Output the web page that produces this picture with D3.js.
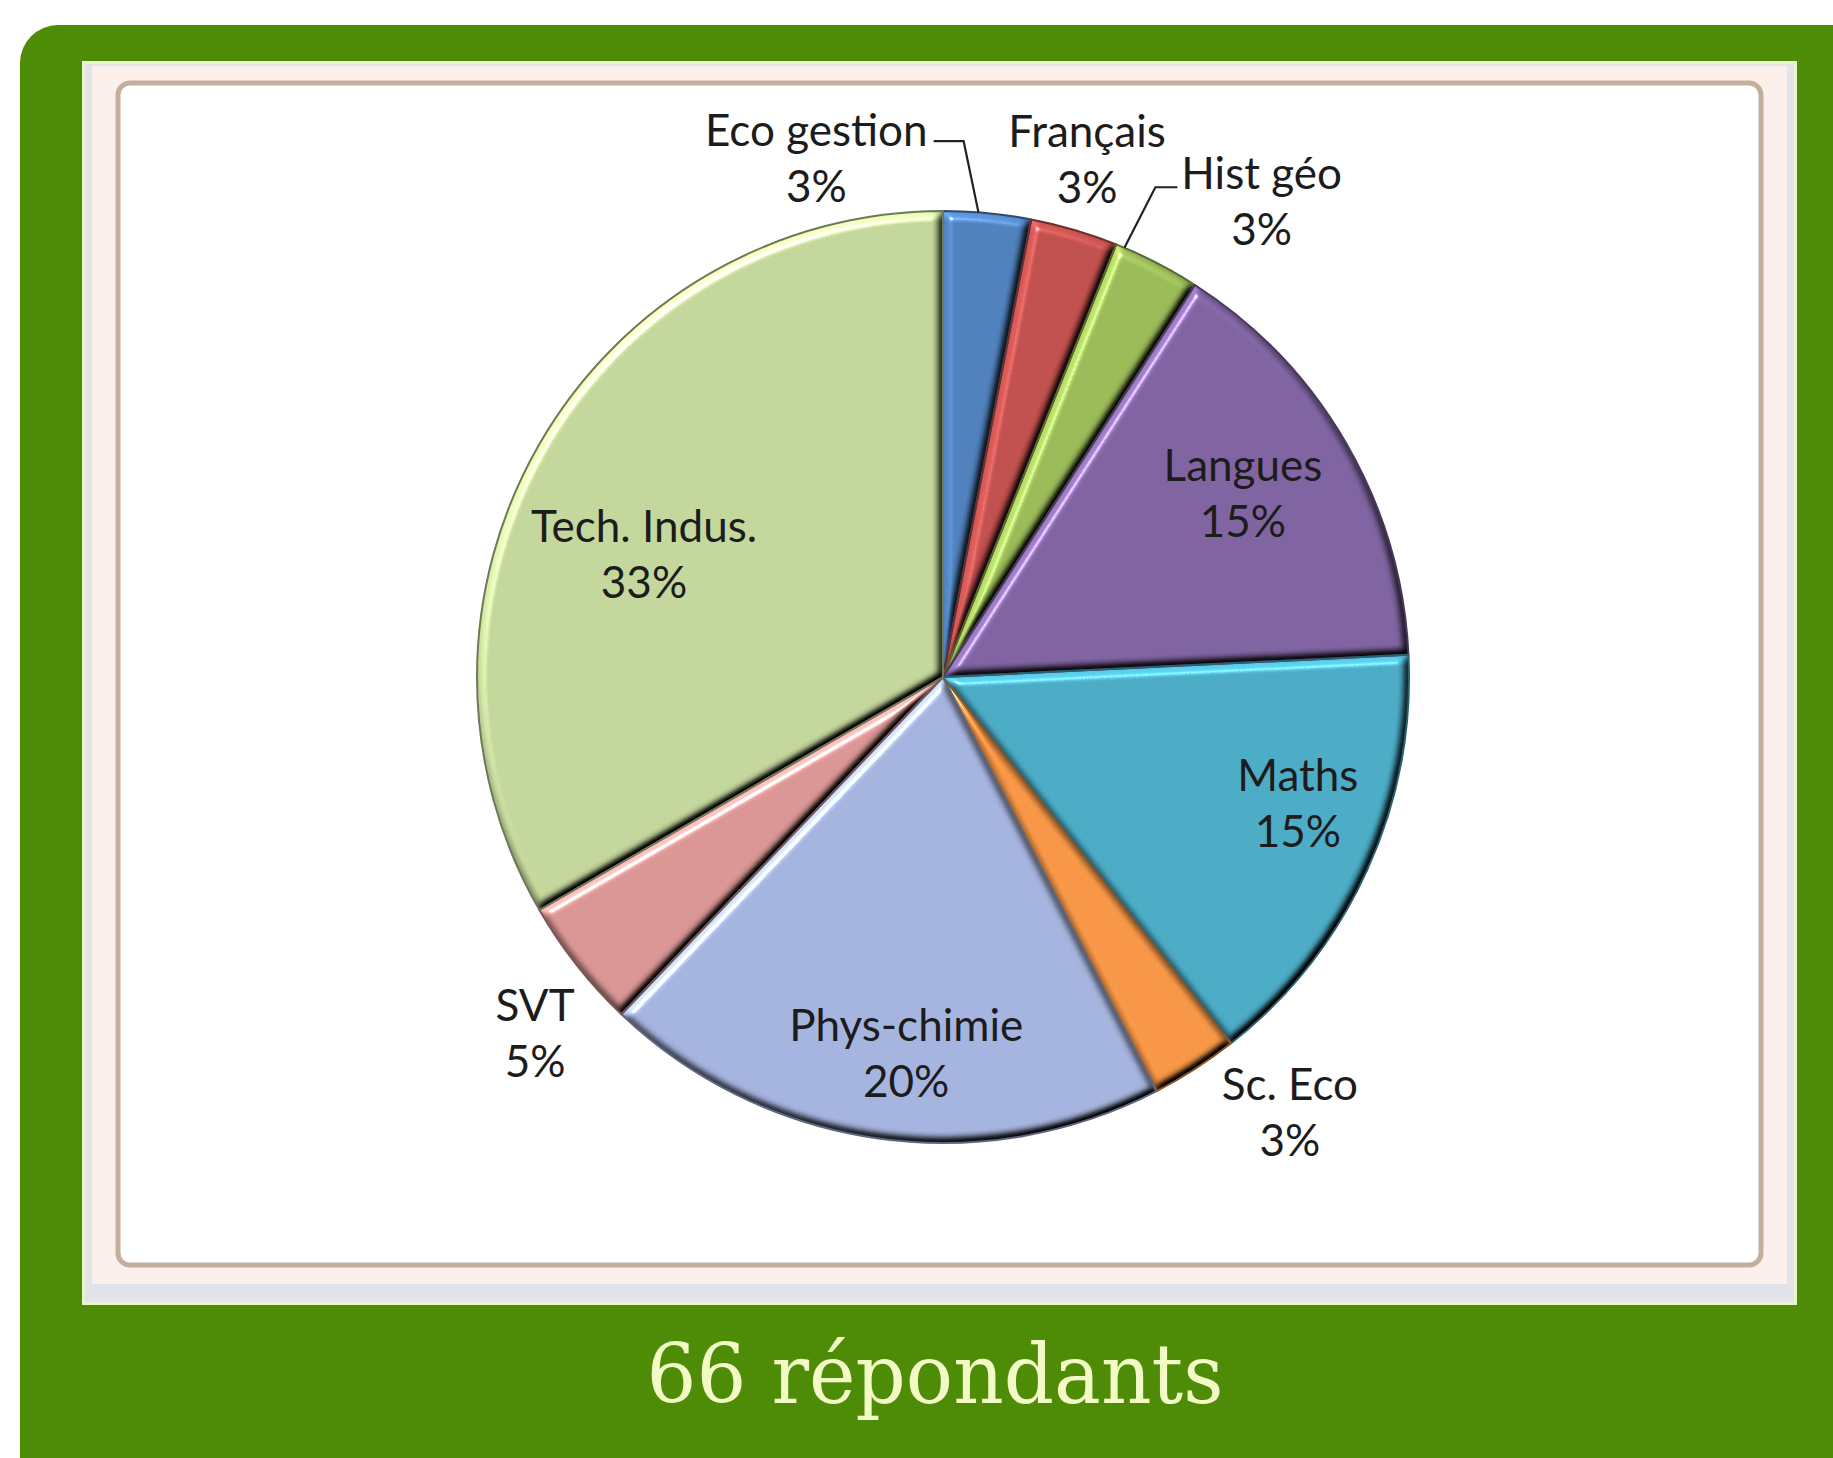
<!DOCTYPE html>
<html>
<head>
<meta charset="utf-8">
<script src="https://cdn.jsdelivr.net/npm/d3@7"></script>
<style>
  html, body { margin: 0; padding: 0; background: #ffffff; }
  svg { display: block; }
</style>
</head>
<body>
<svg id="chart" width="1833" height="1458"></svg>
<script>
// ---------------- DATA ----------------
const categories = ["Eco gestion", "Français", "Hist géo", "Langues", "Maths", "Sc. Eco", "Phys-chimie", "SVT", "Tech. Indus."];
const respondents = [2, 2, 2, 10, 10, 2, 13, 3, 22];
const sliceColors = ["#4f81bd", "#c0504d", "#9bbb59", "#8064a2", "#4bacc6", "#f79646", "#a5b4de", "#d99694", "#c3d69b"];
const titleSuffix = "répondants";

// ---------------- LAYOUT ----------------
const W = 1833, H = 1458;
const cx = 943, cy = 677, R = 466;
// label placement relative to each slice: angle nudge (deg) from mid-angle, radius factor
const labelLayout = [
  { nudge: -19.2, rf: 1.144, leader: { side: "right", run: 30, f: 0.4, dy: -5 } },
  { nudge: -0.8,  rf: 1.152 },
  { nudge: 6.6,   rf: 1.227, leader: { side: "left", run: 22, f: 0.1, dy: -2 } },
  { nudge: -1.4,  rf: 0.754 },
  { nudge: -4.8,  rf: 0.809 },
  { nudge: -5.8,  rf: 1.195 },
  { nudge: -2.6,  rf: 0.812 },
  { nudge: -3.0,  rf: 1.163 },
  { nudge: -7.8,  rf: 0.693 }
];
const lineGap = 56;
const labelFont = "Lato, 'Open Sans', sans-serif";
const labelSize = 44;

const svg = d3.select("#chart");
const defs = svg.append("defs");

// bevel filter (region in the pie group's local coordinates)
const f = defs.append("filter").attr("id", "bevel")
  .attr("filterUnits", "userSpaceOnUse").attr("x", -R - 30).attr("y", -R - 30)
  .attr("width", 2 * R + 60).attr("height", 2 * R + 60)
  .attr("color-interpolation-filters", "sRGB");
f.append("feGaussianBlur").attr("in", "SourceAlpha").attr("stdDeviation", 4.5).attr("result", "b");
const dl = f.append("feDiffuseLighting").attr("in", "b").attr("surfaceScale", 7)
  .attr("diffuseConstant", 1).attr("lighting-color", "#ffffff").attr("result", "diff");
dl.append("feDistantLight").attr("azimuth", 235).attr("elevation", 50);
const sl = f.append("feSpecularLighting").attr("in", "b").attr("surfaceScale", 7)
  .attr("specularConstant", 0.9).attr("specularExponent", 70).attr("lighting-color", "#ffffff").attr("result", "spec");
sl.append("feDistantLight").attr("azimuth", 235).attr("elevation", 50);
f.append("feComposite").attr("in", "diff").attr("in2", "SourceGraphic").attr("operator", "arithmetic")
  .attr("k1", 1.3).attr("k2", 0).attr("k3", 0).attr("k4", 0).attr("result", "lit");
f.append("feComposite").attr("in", "spec").attr("in2", "SourceAlpha").attr("operator", "in").attr("result", "specIn");
f.append("feComposite").attr("in", "lit").attr("in2", "specIn").attr("operator", "arithmetic")
  .attr("k1", 0).attr("k2", 1).attr("k3", 0.7).attr("k4", 0);

// ---------------- FRAME ----------------
svg.append("rect").attr("x", 20).attr("y", 25).attr("width", 1850).attr("height", 1470)
  .attr("rx", 38).attr("fill", "#4e8b06");
svg.append("rect").attr("x", 82).attr("y", 61).attr("width", 1715).attr("height", 1244)
  .attr("fill", "#e8f5cf");
svg.append("rect").attr("x", 85).attr("y", 64).attr("width", 1709).attr("height", 1238)
  .attr("fill", "#e3e4ea");
svg.append("rect").attr("x", 92).attr("y", 66).attr("width", 1695).attr("height", 1218)
  .attr("fill", "#fcf0ec");
svg.append("rect").attr("x", 118).attr("y", 83).attr("width", 1643).attr("height", 1182)
  .attr("rx", 12).attr("fill", "#ffffff").attr("stroke", "#c4ae9c").attr("stroke-width", 5);

// ---------------- PIE ----------------
const total = d3.sum(respondents);
const data = categories.map((c, i) => ({ name: c, value: respondents[i], color: sliceColors[i], idx: i }));
const pie = d3.pie().value(d => d.value).sort(null).startAngle(0).endAngle(2 * Math.PI);
const arcs = pie(data);
const arc = d3.arc().innerRadius(0).outerRadius(R);

const g = svg.append("g").attr("transform", `translate(${cx},${cy})`);
g.selectAll("path.fill").data(arcs).join("path")
  .attr("class", "fill")
  .attr("d", arc)
  .attr("fill", d => d.data.color)
  .attr("filter", "url(#bevel)");
g.selectAll("path.edge").data(arcs).join("path")
  .attr("class", "edge")
  .attr("d", arc)
  .attr("fill", "none")
  .attr("stroke", d => d3.color(d.data.color).darker(1.6))
  .attr("stroke-width", 2)
  .attr("stroke-linejoin", "round");

// ---------------- LABELS ----------------
const pct = v => Math.round(v / total * 100) + "%";
const lg = svg.append("g");
arcs.forEach((a, i) => {
  const L = labelLayout[i];
  const mid = (a.startAngle + a.endAngle) / 2 + L.nudge * Math.PI / 180;
  const bx = cx + R * L.rf * Math.sin(mid);
  const by = cy - R * L.rf * Math.cos(mid);
  const t = lg.append("text")
    .attr("text-anchor", "middle")
    .attr("font-family", labelFont)
    .attr("font-size", labelSize)
    .attr("fill", "#1c1c1c");
  const t1 = t.append("tspan").attr("x", bx).attr("y", by - lineGap / 2 + 15).text(a.data.name);
  t.append("tspan").attr("x", bx).attr("y", by + lineGap / 2 + 15).text(pct(a.data.value));
  if (L.leader) {
    const w = t1.node().getComputedTextLength();
    const ly = by - lineGap / 2 + 15 + L.leader.dy;
    const ang = a.startAngle + L.leader.f * (a.endAngle - a.startAngle);
    const ex = cx + R * Math.sin(ang), ey = cy - R * Math.cos(ang);
    let sx, kx;
    if (L.leader.side === "right") { sx = bx + w / 2 + 6; kx = sx + L.leader.run; }
    else { sx = bx - w / 2 - 4; kx = sx - L.leader.run; }
    lg.append("path")
      .attr("d", d3.line()([[sx, ly], [kx, ly], [ex, ey]]))
      .attr("fill", "none").attr("stroke", "#222").attr("stroke-width", 2.2);
  }
});

// ---------------- TITLE ----------------
svg.append("text")
  .attr("x", 935).attr("y", 1403)
  .attr("text-anchor", "middle")
  .attr("font-family", "'DejaVu Serif', 'Liberation Serif', serif")
  .attr("font-size", 82)
  .attr("fill", "#f2fbc6")
  .attr("textLength", 577)
  .attr("lengthAdjust", "spacingAndGlyphs")
  .text(`${total} ${titleSuffix}`);
</script>
</body>
</html>
